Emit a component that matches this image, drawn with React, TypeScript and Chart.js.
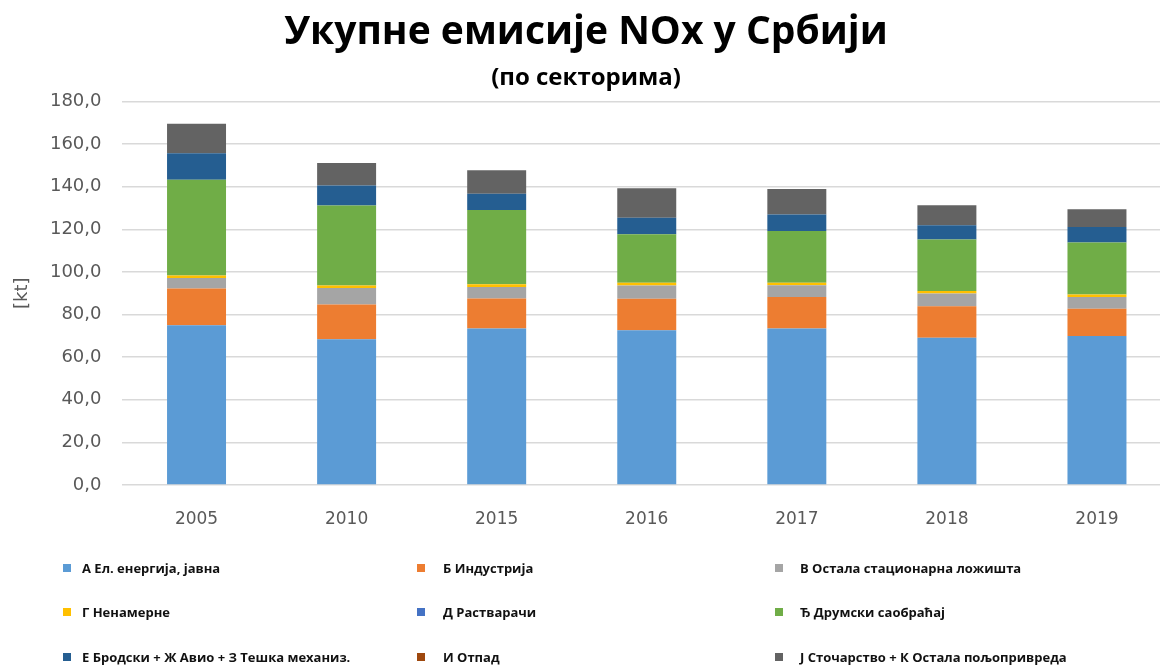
import React, { useEffect, useRef } from "react";
import { Chart, registerables } from "chart.js";

Chart.register(...registerables);

const years = ["2005", "2010", "2015", "2016", "2017", "2018", "2019"];

const seriesNames = [
  "А Ел. енергија, јавна",
  "Б Индустрија",
  "В Остала стационарна ложишта",
  "Г Ненамерне",
  "Д Растварачи",
  "Ђ Друмски саобраћај",
  "Е Бродски + Ж Авио + З Тешка механиз.",
  "И Отпад",
  "Ј Сточарство + К Остала пољопривреда",
];

const energyPublic = [75.0, 68.4, 73.5, 72.7, 73.5, 69.1, 69.9];
const industry = [17.2, 16.3, 14.1, 14.8, 14.8, 14.8, 12.8];
const otherStationary = [5.0, 7.8, 5.4, 6.2, 5.5, 6.0, 5.6];
const fugitive = [1.2, 1.2, 1.3, 1.3, 1.2, 1.2, 1.1];
const solvents = [0, 0, 0, 0, 0, 0, 0];
const roadTransport = [44.9, 37.5, 34.8, 22.7, 24.2, 24.1, 24.5];
const shippingAviationMachinery = [12.5, 9.4, 7.6, 7.8, 7.8, 6.7, 7.2];
const waste = [0, 0, 0, 0, 0, 0, 0];
const livestockAgriculture = [13.8, 10.6, 11.1, 13.8, 12.0, 9.4, 8.4];

const seriesValues = [
  energyPublic,
  industry,
  otherStationary,
  fugitive,
  solvents,
  roadTransport,
  shippingAviationMachinery,
  waste,
  livestockAgriculture,
];

const seriesColors = [
  "#5B9BD5",
  "#ED7D31",
  "#A5A5A5",
  "#FFC000",
  "#4472C4",
  "#70AD47",
  "#255E91",
  "#9E480E",
  "#636363",
];

const yTicks = [0, 20, 40, 60, 80, 100, 120, 140, 160, 180];

const legendGrid = {
  squareX: [63, 417, 775],
  textX: [82, 443, 800],
  rowY: [568, 612, 657],
  square: 8,
};

const gridLegendPlugin = {
  id: "gridLegend",
  afterDraw(chart: any) {
    const ctx = chart.ctx;
    ctx.save();
    ctx.font = "bold 13px 'Open Sans'";
    ctx.textBaseline = "middle";
    ctx.textAlign = "left";
    chart.data.datasets.forEach((ds: any, i: number) => {
      const col = i % 3;
      const row = Math.floor(i / 3);
      const y = legendGrid.rowY[row];
      ctx.fillStyle = ds.backgroundColor;
      ctx.fillRect(
        legendGrid.squareX[col],
        y - legendGrid.square / 2,
        legendGrid.square,
        legendGrid.square
      );
      ctx.fillStyle = "#111111";
      ctx.fillText(ds.label, legendGrid.textX[col], y + 1);
    });
    ctx.restore();
  },
};

export default function App() {
  const ref = useRef<HTMLCanvasElement | null>(null);

  useEffect(() => {
    if (!ref.current) return;
    const chart = new Chart(ref.current, {
      type: "bar",
      data: {
        labels: years,
        datasets: seriesNames.map((name, i) => ({
          label: name,
          data: seriesValues[i],
          backgroundColor: seriesColors[i],
          borderWidth: 0,
          categoryPercentage: 1,
          barPercentage: 0.393,
        })),
      },
      options: {
        responsive: false,
        animation: false,
        layout: { padding: { top: 0, left: 0, right: 8, bottom: 0 } },
        plugins: {
          legend: { display: false },
          tooltip: { enabled: false },
          title: {
            display: true,
            text: "Укупне емисије NOx у Србији",
            color: "#000000",
            font: { family: "'Open Sans'", size: 39, weight: "bold" },
            padding: { top: 9, bottom: 0 },
          },
          subtitle: {
            display: true,
            text: "(по секторима)",
            color: "#000000",
            font: { family: "'Open Sans'", size: 24, weight: "bold" },
            padding: { top: 8, bottom: 9 },
          },
        },
        scales: {
          x: {
            stacked: true,
            grid: { display: false },
            border: { display: false },
            ticks: {
              color: "#595959",
              font: { family: "'DejaVu Sans'", size: 17 },
              padding: 16,
            },
            afterFit(scale: any) {
              scale.height = 182;
            },
          },
          y: {
            stacked: true,
            min: 0,
            max: 180,
            afterBuildTicks(scale: any) {
              scale.ticks = yTicks.map((v) => ({ value: v }));
            },
            grid: { color: "#D9D9D9", lineWidth: 1.5, drawTicks: false },
            border: { display: false },
            ticks: {
              color: "#595959",
              font: { family: "'DejaVu Sans'", size: 18 },
              padding: 20,
              callback: (v: any) => Number(v).toFixed(1).replace(".", ","),
            },
            title: {
              display: true,
              text: "[kt]",
              color: "#595959",
              font: { family: "'DejaVu Sans'", size: 18 },
              padding: { top: 12, bottom: 0 },
            },
            afterFit(scale: any) {
              scale.width = 121.5;
            },
          },
        },
      },
      plugins: [gridLegendPlugin],
    });
    return () => chart.destroy();
  }, []);

  return (
    <div
      style={{
        position: "fixed",
        left: 0,
        top: 0,
        width: 1160,
        height: 667,
        overflow: "hidden",
        background: "#ffffff",
      }}
    >
      <canvas
        ref={ref}
        width={1180}
        height={667}
        style={{ display: "block", width: 1180, height: 667 }}
      />
    </div>
  );
}
